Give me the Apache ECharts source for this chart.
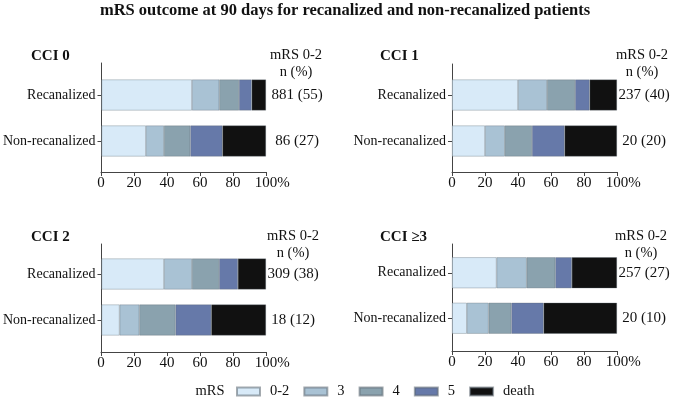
<!DOCTYPE html>
<html>
<head>
<meta charset="utf-8">
<script src="https://cdn.jsdelivr.net/npm/echarts@6/dist/echarts.min.js"></script>
<style>
  html, body { margin: 0; padding: 0; background: #fff; }
  #chart { width: 673px; height: 401px; }
</style>
</head>
<body>
<div id="chart"></div>
<script>
const groups = ['Recanalized', 'Non-recanalized'];
const mrsLevels = ['0-2', '3', '4', '5', 'death'];
const panelNames = ['CCI 0', 'CCI 1', 'CCI 2', 'CCI \u22653'];

// % of patients per mRS level: [recanalized, non-recanalized]
const cci0 = [[55, 27], [16.6, 11], [12, 16], [7.7, 19.5], [8.7, 26.5]];
const cci1 = [[40, 20], [17.6, 12], [17, 16.5], [8.8, 19.7], [16.6, 31.8]];
const cci2 = [[38, 11], [17, 12], [16.5, 22], [11.4, 21.7], [17.1, 33.3]];
const cci3 = [[27, 9], [18.3, 13.2], [17.3, 13.8], [10, 19.5], [27.4, 44.5]];

// mRS 0-2, n (%)
const good0 = ['881 (55)', '86 (27)'];
const good1 = ['237 (40)', '20 (20)'];
const good2 = ['309 (38)', '18 (12)'];
const good3 = ['257 (27)', '20 (10)'];

const xTicks = [0, 20, 40, 60, 80, 100];

const panelData = [cci0, cci1, cci2, cci3];
const panelGood = [good0, good1, good2, good3];
const levelColors = ['#d8eaf8', '#a9c2d4', '#8aa2ae', '#6679a9', '#111111'];

const FONT = '"Liberation Serif", "Times New Roman", serif';
const INK = '#111';

// pixel layout of each panel
const layout = [
  { left: 101, top: 63, h: 109, barTop: 72, barH: 92, tx: 31, ty: 56, nx: 296, m: 31 },
  { left: 452, top: 64, h: 108, barTop: 72, barH: 92, tx: 380, ty: 56, nx: 642, m: 27 },
  { left: 101, top: 244, h: 108, barTop: 251, barH: 92, tx: 31, ty: 237, nx: 293, m: 27 },
  { left: 452, top: 244, h: 107, barTop: 250, barH: 91, tx: 380, ty: 237, nx: 641, m: 27 }
];
const W = 165;

const grid = [], xAxis = [], yAxis = [], series = [];
const title = [{
  text: 'mRS outcome at 90 days for recanalized and non-recanalized patients',
  left: 345, top: 11, textAlign: 'center', textVerticalAlign: 'middle', padding: 0,
  textStyle: { fontFamily: FONT, fontSize: 16.5, fontWeight: 'bold', color: INK }
}, {
  text: 'mRS', left: 210, top: 391, textAlign: 'center', textVerticalAlign: 'middle', padding: 0,
  textStyle: { fontFamily: FONT, fontSize: 14.5, fontWeight: 'normal', color: INK }
}];

layout.forEach((p, i) => {
  // grid for the axes lines (taller than bar area)
  grid.push({ left: p.left, top: p.top, width: W, height: p.h });
  // grid for the bars
  grid.push({ left: p.left, top: p.barTop, width: W, height: p.barH });
  const gA = i * 2, gB = i * 2 + 1;

  xAxis.push({
    gridIndex: gA, type: 'value',
    min: xTicks[0], max: xTicks[xTicks.length - 1], interval: xTicks[1] - xTicks[0],
    axisLine: { show: true, lineStyle: { color: '#444', width: 1 } },
    axisTick: { show: true, length: 4, lineStyle: { color: '#444' } },
    splitLine: { show: false },
    axisLabel: {
      margin: 4, fontFamily: FONT, fontSize: 15, color: INK,
      formatter: v => v === 100 ? '{h|%}100{s|%}' : String(v),
      rich: {
        h: { fontFamily: FONT, fontSize: 15, color: 'rgba(0,0,0,0)' },
        s: { fontFamily: FONT, fontSize: 15, color: INK }
      }
    }
  });
  xAxis.push({
    gridIndex: gB, type: 'value', show: false,
    min: xTicks[0], max: xTicks[xTicks.length - 1]
  });
  yAxis.push({
    gridIndex: gA, type: 'value', min: 0, max: 1,
    axisLine: { show: true, lineStyle: { color: '#444', width: 1 } },
    axisTick: { show: false }, axisLabel: { show: false }, splitLine: { show: false }
  });
  yAxis.push({
    gridIndex: gB, type: 'category', inverse: true, data: groups,
    axisLine: { show: false },
    axisTick: { show: true, alignWithLabel: true, length: 4, lineStyle: { color: '#444' } },
    axisLabel: { margin: 6, fontFamily: FONT, fontSize: 14, color: INK }
  });
  yAxis.push({
    gridIndex: gB, type: 'category', inverse: true, position: 'right',
    data: panelGood[i],
    axisLine: { show: false }, axisTick: { show: false },
    axisLabel: { margin: p.m, align: 'center', fontFamily: FONT, fontSize: 15, color: INK }
  });
  const yIdx = yAxis.length - 2;

  mrsLevels.forEach((lvl, k) => {
    series.push({
      name: lvl, type: 'bar', stack: 'p' + i,
      xAxisIndex: gB, yAxisIndex: yIdx,
      barWidth: 31,
      itemStyle: { color: levelColors[k], borderColor: 'rgba(90,100,110,0.55)', borderWidth: 0.6 },
      emphasis: { disabled: true },
      data: panelData[i][k]
    });
  });

  title.push({
    text: panelNames[i], left: p.tx, top: p.ty, textVerticalAlign: 'middle', textAlign: 'left', padding: 0,
    textStyle: { fontFamily: FONT, fontSize: 15, fontWeight: 'bold', color: INK }
  });
  title.push({
    text: 'mRS 0-2', left: p.nx, top: p.ty - 1, textAlign: 'center', textVerticalAlign: 'middle', padding: 0,
    textStyle: { fontFamily: FONT, fontSize: 14.5, fontWeight: 'normal', color: INK }
  });
  title.push({
    text: 'n (%)', left: p.nx, top: p.ty + 16, textAlign: 'center', textVerticalAlign: 'middle', padding: 0,
    textStyle: { fontFamily: FONT, fontSize: 14.5, fontWeight: 'normal', color: INK }
  });
});

const chart = echarts.init(document.getElementById('chart'), null, { renderer: 'canvas' });
chart.setOption({
  animation: false,
  backgroundColor: '#fff',
  title: title,
  legend: {
    data: mrsLevels, left: 236, top: 384, padding: 0,
    itemWidth: 23, itemHeight: 8, itemGap: 14, icon: 'rect',
    selectedMode: false,
    textStyle: { fontFamily: FONT, fontSize: 14.5, color: INK, padding: [0, 0, 0, 5] }
  },
  grid: grid,
  xAxis: xAxis,
  yAxis: yAxis,
  series: series
});
</script>
</body>
</html>
